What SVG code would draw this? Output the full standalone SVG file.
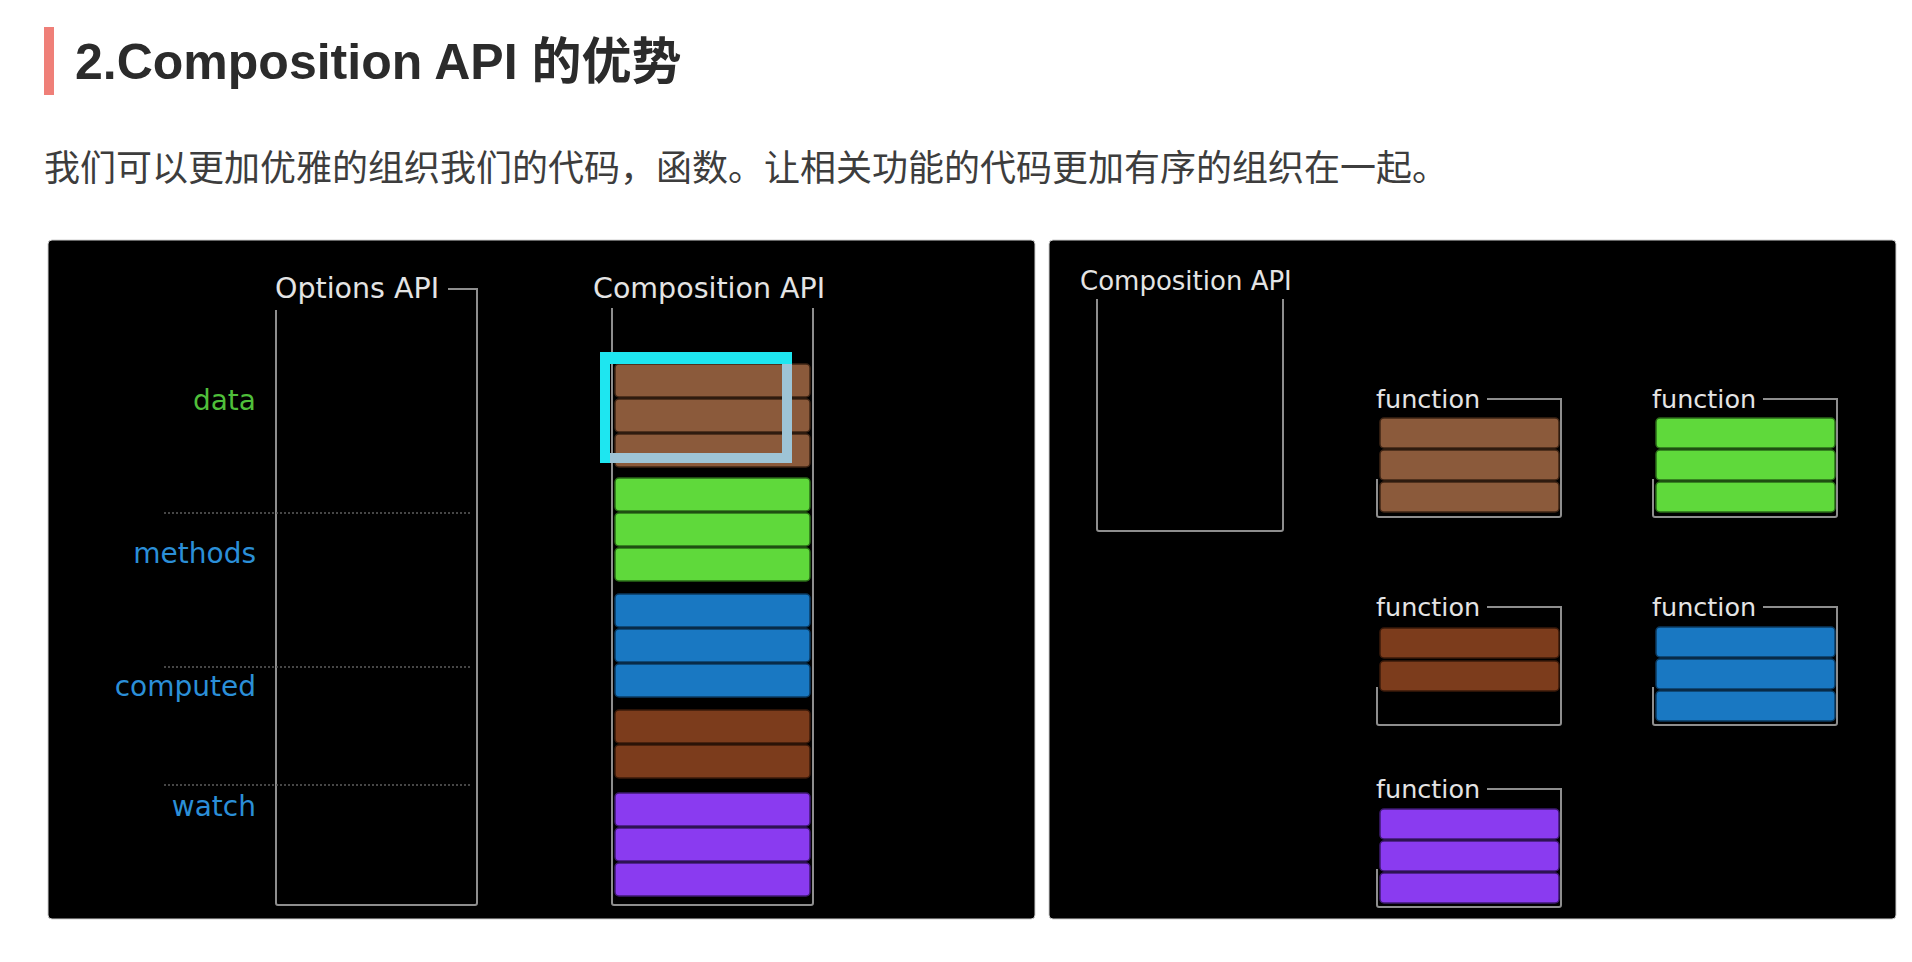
<svg xmlns="http://www.w3.org/2000/svg" width="1912" height="962" viewBox="0 0 1912 962">
<style>
.title{font-family:"Liberation Sans","Noto Sans CJK SC",sans-serif;font-weight:bold;font-size:50px;fill:#2b2b2b}
.sub{font-family:"Noto Sans CJK SC",sans-serif;font-size:36px;fill:#3d3d3d}
.lbl{font-family:"DejaVu Sans",sans-serif;font-size:28.5px;fill:#e4e4e4}
.lbl2{font-family:"DejaVu Sans",sans-serif;font-size:26px;fill:#e4e4e4}
.fn{font-family:"DejaVu Sans",sans-serif;font-size:25.5px;fill:#e4e4e4}
.cat{font-family:"DejaVu Sans",sans-serif;font-size:28px;text-anchor:end}
.frame{fill:none;stroke:#8e8e8e;stroke-width:2}
.dot{stroke:#5e5e5e;stroke-width:1.5;stroke-dasharray:2 2}
.br{fill:#8b5a3b;stroke:#3e2515;stroke-width:1.5}
.gr{fill:#5fd93b;stroke:#2a6a18;stroke-width:1.5}
.bl{fill:#1978c2;stroke:#0b3a60;stroke-width:1.5}
.db{fill:#7c3c1c;stroke:#3a1a0a;stroke-width:1.5}
.pu{fill:#8a3bf0;stroke:#3e1a70;stroke-width:1.5}
.panel{fill:#000;stroke:#cfcfcf;stroke-width:1}
</style>
<rect width="1912" height="962" fill="#ffffff"/>

<g id="heading">
<rect x="44" y="27" width="10" height="68" fill="#ef7f78"/>
<text class="title" x="75" y="79">2.Composition API 的优势</text>
</g>
<g id="subtitle">
<text class="sub" x="44" y="181">我们可以更加优雅的组织我们的代码，函数。让相关功能的代码更加有序的组织在一起。</text>
</g>

<g id="left-panel">
<rect class="panel" x="48" y="240" width="987" height="679" rx="4"/>
</g>

<g id="options-api">
<text class="lbl" x="275" y="298">Options API</text>
<path class="frame" d="M448 289 H477 V903 Q477 905 475 905 H278 Q276 905 276 903 V310"/>
</g>

<g id="labels">
<text class="cat" x="256" y="410" fill="#4fbf3a">data</text>
<text class="cat" x="256" y="563" fill="#2b8fd8">methods</text>
<text class="cat" x="256" y="696" fill="#2b8fd8">computed</text>
<text class="cat" x="256" y="816" fill="#2b8fd8">watch</text>
<line class="dot" x1="164" y1="513" x2="470" y2="513"/>
<line class="dot" x1="164" y1="667" x2="470" y2="667"/>
<line class="dot" x1="164" y1="785" x2="470" y2="785"/>
</g>

<g id="composition-api-left">
<text class="lbl" x="593" y="298">Composition API</text>
<path class="frame" d="M612 308 V903 Q612 905 614 905 H811 Q813 905 813 903 V308"/>
<rect class="br" x="615" y="364" width="195" height="33" rx="4"/>
<rect class="br" x="615" y="399" width="195" height="33" rx="4"/>
<rect class="br" x="615" y="434" width="195" height="33" rx="4"/>
<rect class="gr" x="615" y="478" width="195" height="33" rx="4"/>
<rect class="gr" x="615" y="513" width="195" height="33" rx="4"/>
<rect class="gr" x="615" y="548" width="195" height="33" rx="4"/>
<rect class="bl" x="615" y="594" width="195" height="33" rx="4"/>
<rect class="bl" x="615" y="629" width="195" height="33" rx="4"/>
<rect class="bl" x="615" y="664" width="195" height="33" rx="4"/>
<rect class="db" x="615" y="710" width="195" height="33" rx="4"/>
<rect class="db" x="615" y="745" width="195" height="33" rx="4"/>
<rect class="pu" x="615" y="793" width="195" height="33" rx="4"/>
<rect class="pu" x="615" y="828" width="195" height="33" rx="4"/>
<rect class="pu" x="615" y="863" width="195" height="33" rx="4"/>
</g>

<g id="highlight">
<path d="M600 352 H792 V364 H610 V463 H600 Z" fill="#1ee6f0"/>
<path d="M782 364 H792 V463 H610 V453 H782 Z" fill="#9ec4d6"/>
</g>

<g id="right-panel">
<rect class="panel" x="1049" y="240" width="847" height="679" rx="4"/>
</g>

<g id="composition-api-right">
<text class="lbl2" x="1080" y="290">Composition API</text>
<path class="frame" d="M1097 299 V529 Q1097 531 1099 531 H1281 Q1283 531 1283 529 V299"/>
</g>

<g id="function-1">
<text class="fn" x="1376" y="408">function</text>
<path class="frame" d="M1487 399 H1561 V515 Q1561 517 1559 517 H1379 Q1377 517 1377 515 V479"/>
<rect class="br" x="1380" y="418" width="179" height="30" rx="4"/>
<rect class="br" x="1380" y="450" width="179" height="30" rx="4"/>
<rect class="br" x="1380" y="482" width="179" height="30" rx="4"/>
</g>

<g id="function-2">
<text class="fn" x="1652" y="408">function</text>
<path class="frame" d="M1763 399 H1837 V515 Q1837 517 1835 517 H1655 Q1653 517 1653 515 V479"/>
<rect class="gr" x="1656" y="418" width="179" height="30" rx="4"/>
<rect class="gr" x="1656" y="450" width="179" height="30" rx="4"/>
<rect class="gr" x="1656" y="482" width="179" height="30" rx="4"/>
</g>

<g id="function-3">
<text class="fn" x="1376" y="616">function</text>
<path class="frame" d="M1487 607 H1561 V723 Q1561 725 1559 725 H1379 Q1377 725 1377 723 V687"/>
<rect class="db" x="1380" y="628" width="179" height="30" rx="4"/>
<rect class="db" x="1380" y="661" width="179" height="30" rx="4"/>
</g>

<g id="function-4">
<text class="fn" x="1652" y="616">function</text>
<path class="frame" d="M1763 607 H1837 V723 Q1837 725 1835 725 H1655 Q1653 725 1653 723 V687"/>
<rect class="bl" x="1656" y="627" width="179" height="30" rx="4"/>
<rect class="bl" x="1656" y="659" width="179" height="30" rx="4"/>
<rect class="bl" x="1656" y="691" width="179" height="30" rx="4"/>
</g>

<g id="function-5">
<text class="fn" x="1376" y="798">function</text>
<path class="frame" d="M1487 789 H1561 V905 Q1561 907 1559 907 H1379 Q1377 907 1377 905 V869"/>
<rect class="pu" x="1380" y="809" width="179" height="30" rx="4"/>
<rect class="pu" x="1380" y="841" width="179" height="30" rx="4"/>
<rect class="pu" x="1380" y="873" width="179" height="30" rx="4"/>
</g>

<g id="connectors"></g>
</svg>
